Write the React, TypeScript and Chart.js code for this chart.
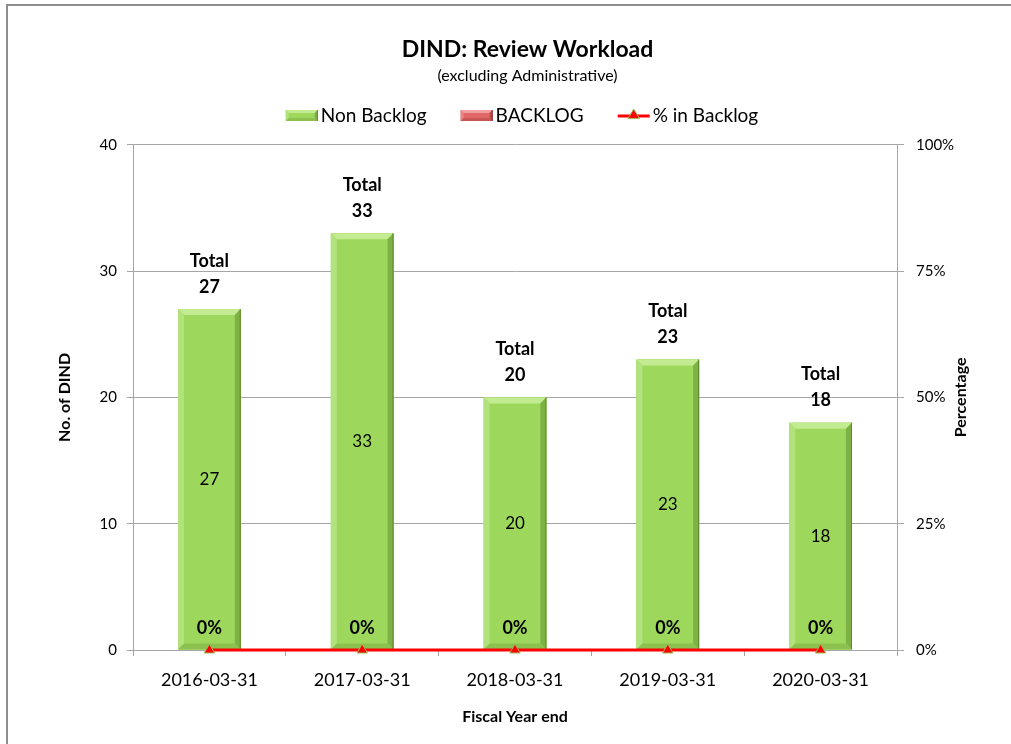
import React, { useEffect, useRef } from 'react';
import { Chart, registerables } from 'chart.js';

Chart.register(...registerables);

const categories = ['2016-03-31', '2017-03-31', '2018-03-31', '2019-03-31', '2020-03-31'];
const nonBacklog = [27, 33, 20, 23, 18];
const backlog = [0, 0, 0, 0, 0];
const pctBacklog = [0, 0, 0, 0, 0];

const chartTitle = 'DIND: Review Workload';
const chartSubtitle = '(excluding Administrative)';
const legendLabels = ['Non Backlog', 'BACKLOG', '% in Backlog'];
const leftAxisTitle = 'No. of DIND';
const rightAxisTitle = 'Percentage';
const xAxisTitle = 'Fiscal Year end';

const FONT = 'Lato, "Open Sans", sans-serif';
const GRID = '#a6a6a6';

const GREEN = { base: '#9dd85d', top: '#c2eb92', left: '#b2e27b', right: '#7fb246', bottom: '#8cc04f', edge: '#5e8a2a' };
const RED = { base: '#e06868', top: '#f3a0a0', left: '#ea8585', right: '#b84a4a', bottom: '#c85656', edge: '#963030' };

function poly(ctx: CanvasRenderingContext2D, pts: number[][], color: string) {
  ctx.beginPath();
  ctx.moveTo(pts[0][0], pts[0][1]);
  for (let i = 1; i < pts.length; i++) ctx.lineTo(pts[i][0], pts[i][1]);
  ctx.closePath();
  ctx.fillStyle = color;
  ctx.fill();
}

function bevel(ctx: CanvasRenderingContext2D, l: number, t: number, r: number, b: number, c: any, s: number) {
  if (b - t < 1) return;
  const ss = Math.min(s, (b - t) / 2, (r - l) / 2);
  ctx.save();
  ctx.fillStyle = c.base;
  ctx.fillRect(l, t, r - l, b - t);
  poly(ctx, [[l, t], [r, t], [r - ss, t + ss], [l + ss, t + ss]], c.top);
  poly(ctx, [[l, t], [l + ss, t + ss], [l + ss, b - ss], [l, b]], c.left);
  poly(ctx, [[r, t], [r, b], [r - ss, b - ss], [r - ss, t + ss]], c.right);
  poly(ctx, [[l, b], [l + ss, b - ss], [r - ss, b - ss], [r, b]], c.bottom);
  ctx.strokeStyle = c.edge;
  ctx.lineWidth = 1;
  ctx.beginPath();
  ctx.moveTo(r - 0.5, t);
  ctx.lineTo(r - 0.5, b);
  ctx.stroke();
  ctx.restore();
}

function triangle(ctx: CanvasRenderingContext2D, x: number, y: number, r: number) {
  ctx.save();
  ctx.beginPath();
  ctx.moveTo(x, y - r);
  ctx.lineTo(x + r * 0.95, y + r * 0.6);
  ctx.lineTo(x - r * 0.95, y + r * 0.6);
  ctx.closePath();
  ctx.fillStyle = '#ff0000';
  ctx.fill();
  ctx.strokeStyle = '#9bbb59';
  ctx.lineWidth = 1;
  ctx.stroke();
  ctx.restore();
}

const customPlugin = {
  id: 'customDraw',
  afterDatasetDraw(chart: any, args: any) {
    if (args.index !== 1 && args.index !== 2) return;
    const ctx = chart.ctx;
    const colors = args.index === 1 ? GREEN : RED;
    args.meta.data.forEach((el: any) => {
      const { x, y, base, width } = el.getProps(['x', 'y', 'base', 'width'], true);
      const top = Math.min(y, base);
      const bot = Math.max(y, base);
      bevel(ctx, x - width / 2, top, x + width / 2, bot, colors, 6);
    });
  },
  afterDraw(chart: any) {
    const ctx = chart.ctx;
    const yScale = chart.scales.y;
    ctx.save();
    ctx.fillStyle = '#000';
    ctx.textAlign = 'center';
    ctx.textBaseline = 'middle';
    const barMeta = chart.getDatasetMeta(1);
    barMeta.data.forEach((el: any, i: number) => {
      const { x, y, base } = el.getProps(['x', 'y', 'base'], true);
      ctx.font = `17px ${FONT}`;
      ctx.fillText(String(nonBacklog[i]), x, (y + base) / 2);
      const total = nonBacklog[i] + backlog[i];
      const ty = yScale.getPixelForValue(total);
      ctx.font = `bold 18px ${FONT}`;
      ctx.fillText('Total', x, ty - 48);
      ctx.fillText(String(total), x, ty - 22);
    });
    const lineMeta = chart.getDatasetMeta(0);
    lineMeta.data.forEach((pt: any, i: number) => {
      ctx.font = `bold 18px ${FONT}`;
      ctx.fillText(`${Math.round(pctBacklog[i] * 100)}%`, pt.x, pt.y - 22);
    });

    // right axis title
    const ca = chart.chartArea;
    ctx.save();
    ctx.translate(961, (ca.top + ca.bottom) / 2);
    ctx.rotate(-Math.PI / 2);
    ctx.font = `bold 16px ${FONT}`;
    ctx.fillText(rightAxisTitle, 0, 0);
    ctx.restore();

    // legend
    const ly = 115;
    ctx.font = `19px ${FONT}`;
    const sw = 32;
    const gapText = 3;
    const gapItem = 34;
    const widths = legendLabels.map((t) => ctx.measureText(t).width);
    const total = widths.reduce((a, w) => a + sw + gapText + w, 0) + gapItem * (legendLabels.length - 1);
    let lx = 522 - total / 2;
    legendLabels.forEach((t, i) => {
      if (i === 0) bevel(ctx, lx, ly - 5, lx + sw, ly + 6, GREEN, 3);
      else if (i === 1) bevel(ctx, lx, ly - 5, lx + sw, ly + 6, RED, 3);
      else {
        ctx.save();
        ctx.strokeStyle = '#ff0000';
        ctx.lineWidth = 3;
        ctx.beginPath();
        ctx.moveTo(lx, ly + 1);
        ctx.lineTo(lx + sw, ly + 1);
        ctx.stroke();
        ctx.restore();
        triangle(ctx, lx + sw / 2, ly, 6);
      }
      ctx.fillStyle = '#000';
      ctx.textAlign = 'left';
      ctx.fillText(t, lx + sw + gapText, ly + 1);
      lx += sw + gapText + widths[i] + gapItem;
    });
    ctx.restore();
  },
};

export default function App() {
  const ref = useRef<HTMLCanvasElement>(null);
  useEffect(() => {
    if (!ref.current) return;
    const chart = new Chart(ref.current, {
      type: 'bar',
      data: {
        labels: categories,
        datasets: [
          {
            type: 'line',
            label: legendLabels[2],
            data: pctBacklog,
            yAxisID: 'y1',
            borderColor: '#ff0000',
            borderWidth: 3,
            pointStyle: 'triangle',
            pointRadius: 6,
            pointBackgroundColor: '#ff0000',
            pointBorderColor: '#9bbb59',
            pointBorderWidth: 1,
            clip: false,
            order: 0,
          } as any,
          {
            type: 'bar',
            label: legendLabels[0],
            data: nonBacklog,
            yAxisID: 'y',
            stack: 's',
            backgroundColor: GREEN.base,
            borderWidth: 0,
            categoryPercentage: 1,
            barPercentage: 0.41,
            order: 1,
          },
          {
            type: 'bar',
            label: legendLabels[1],
            data: backlog,
            yAxisID: 'y',
            stack: 's',
            backgroundColor: RED.base,
            borderWidth: 0,
            categoryPercentage: 1,
            barPercentage: 0.41,
            order: 1,
          },
        ],
      },
      options: {
        responsive: false,
        animation: false,
        devicePixelRatio: 1,
        layout: { padding: { left: 44, right: 0, top: 0, bottom: 0 } },
        plugins: {
          legend: { display: false },
          tooltip: { enabled: false },
          title: {
            display: true,
            text: chartTitle,
            color: '#000',
            font: { family: FONT, size: 23, weight: 'bold' },
            padding: { top: 36, bottom: 2 },
          },
          subtitle: {
            display: true,
            text: chartSubtitle,
            color: '#000',
            font: { family: FONT, size: 16 },
            padding: { top: 1, bottom: 59 },
          },
        },
        scales: {
          x: {
            stacked: true,
            offset: true,
            grid: { display: true, drawOnChartArea: false, tickLength: 6, color: GRID, offset: true },
            border: { display: true, color: GRID },
            ticks: { color: '#000', font: { family: FONT, size: 18 }, padding: 13 },
            title: {
              display: true,
              text: xAxisTitle,
              color: '#000',
              font: { family: FONT, size: 16, weight: 'bold' },
              padding: { top: 4, bottom: 18 },
            },
            afterFit(scale: any) {
              scale.height = 94;
            },
          },
          y: {
            stacked: true,
            position: 'left',
            min: 0,
            max: 40,
            ticks: { stepSize: 10, color: '#000', font: { family: FONT, size: 15 }, padding: 10 },
            grid: { color: GRID, tickLength: 6 },
            border: { display: true, color: GRID },
            title: {
              display: true,
              text: leftAxisTitle,
              color: '#000',
              font: { family: FONT, size: 16, weight: 'bold' },
              padding: { top: 11, bottom: 0 },
            },
            afterFit(scale: any) {
              scale.width = 89;
            },
          },
          y1: {
            position: 'right',
            min: 0,
            max: 1,
            ticks: {
              stepSize: 0.25,
              color: '#000',
              font: { family: FONT, size: 15 },
              padding: 12,
              callback: (v: any) => `${Math.round(Number(v) * 100)}%`,
            },
            grid: { drawOnChartArea: false, color: GRID, tickLength: 7 },
            border: { display: true, color: GRID },
            afterFit(scale: any) {
              scale.width = 114;
            },
          },
        },
      } as any,
      plugins: [customPlugin],
    });
    return () => chart.destroy();
  }, []);

  return (
    <div style={{ position: 'absolute', left: 0, top: 0, width: 1011, height: 744, overflow: 'hidden', background: '#fff' }}>
      <div
        style={{
          position: 'absolute',
          left: 6,
          top: 4,
          width: 1005,
          height: 740,
          borderLeft: '2px solid #8e8e8e',
          borderTop: '2px solid #8e8e8e',
          boxSizing: 'border-box',
        }}
      />
      <canvas ref={ref} width={1011} height={744} style={{ position: 'absolute', left: 0, top: 0 }} />
    </div>
  );
}
